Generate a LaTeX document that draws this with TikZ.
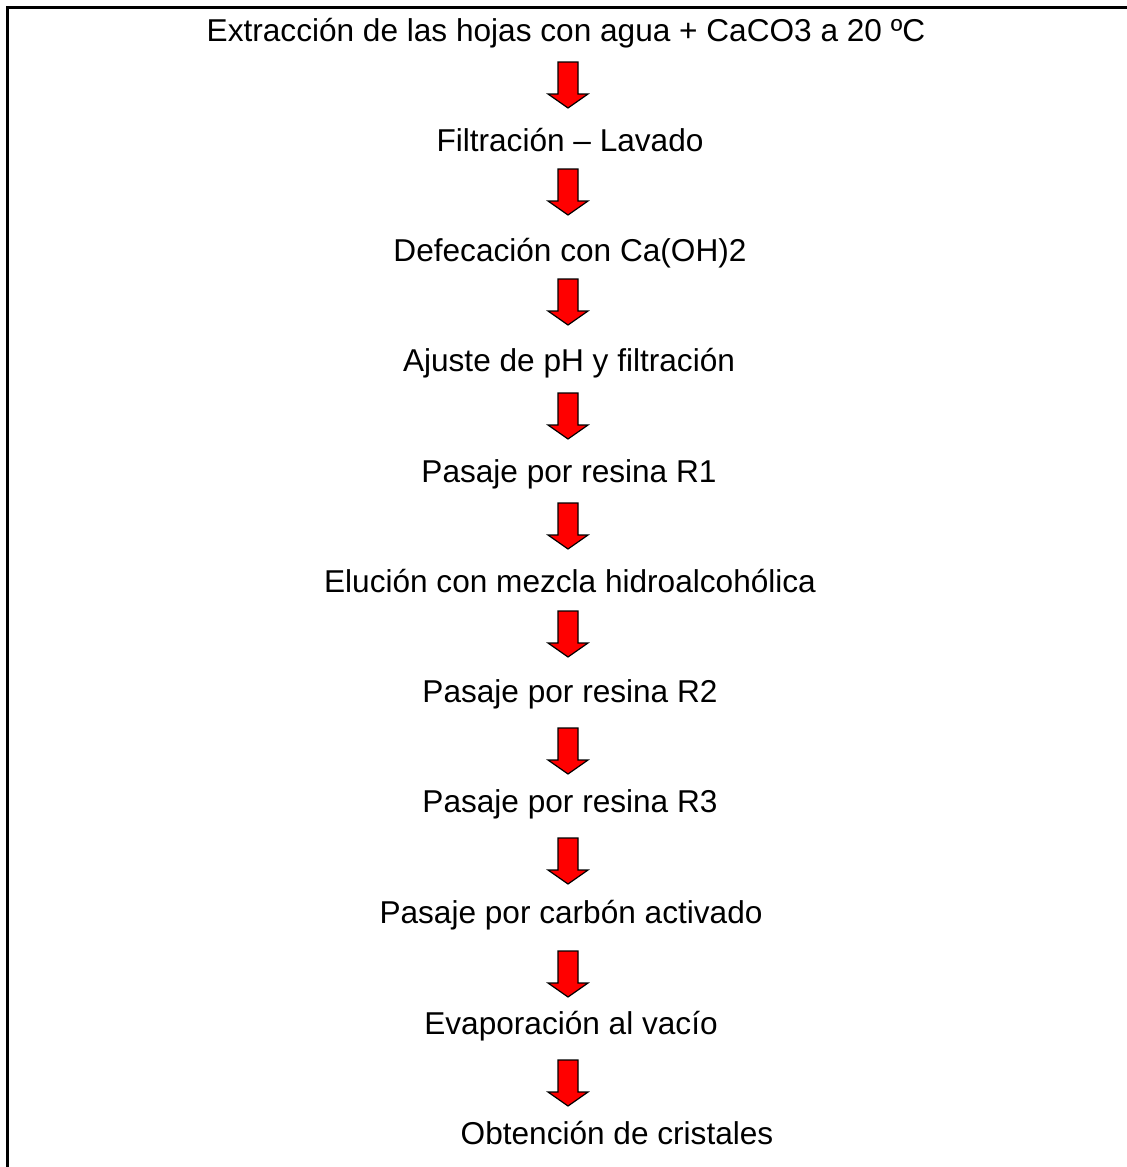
\documentclass[tikz,border=0pt]{standalone}
\usepackage{fontspec}
\setmainfont{Liberation Sans}
\definecolor{arrow_red}{RGB}{255,0,0}

\begin{document}
\begin{tikzpicture}[x=0.5pt,y=-0.5pt,
    downarrow/.pic={
      \filldraw[draw=black,fill=arrow_red,line width=0.6pt,line join=miter]
        (-10,0) -- (10,0) -- (10,32) -- (20,32) -- (0,46) -- (-20,32) -- (-10,32) -- cycle;
    }]
    \tikzstyle{stage}=[anchor=base, inner sep=0pt, font=\fontsize{15.8pt}{19pt}\selectfont, text=black]
    \tikzstyle{frame}=[line width=1.5pt, line cap=rect]

    \useasboundingbox (0,0) rectangle (1127,1167);
    \draw[frame] (7.5,1172) -- (7.5,7.5) -- (1132,7.5);

    \node[stage] (a) at (566,41)    {Extracción de las hojas con agua + CaCO3 a 20 ºC};
    \node[stage] (b) at (570,151)   {Filtración – Lavado};
    \node[stage] (c) at (570,261)   {Defecación con Ca(OH)2};
    \node[stage] (d) at (569,371)   {Ajuste de pH y filtración};
    \node[stage] (e) at (569,482)   {Pasaje por resina R1};
    \node[stage] (f) at (570,592)   {Elución con mezcla hidroalcohólica};
    \node[stage] (g) at (570,702)   {Pasaje por resina R2};
    \node[stage] (h) at (570,812)   {Pasaje por resina R3};
    \node[stage] (i) at (571,923)   {Pasaje por carbón activado};
    \node[stage] (j) at (571,1034)  {Evaporación al vacío};
    \node[stage] (k) at (617,1144)  {Obtención de cristales};

    \foreach \n/\dx/\dy in {a/2/21,b/-2/18,c/-2/18,d/-1/22,e/-1/21,f/-2/19,g/-2/26,h/-2/26,i/-3/28,j/-3/26}
      \path (\n.base) ++(\dx,\dy) pic{downarrow};
\end{tikzpicture}
\end{document}
